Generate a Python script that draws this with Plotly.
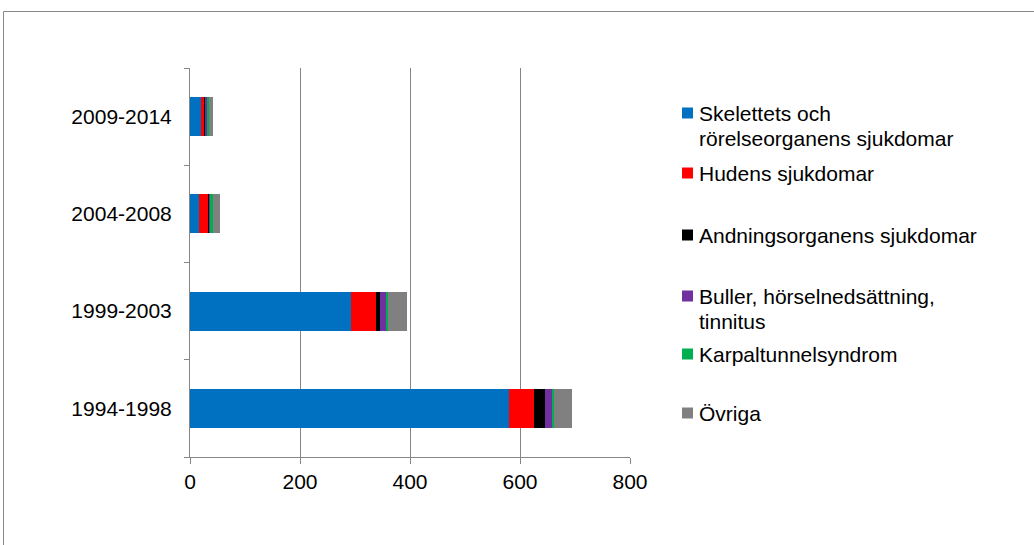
import plotly.graph_objects as go

periods = ["1994-1998", "1999-2003", "2004-2008", "2009-2014"]
series_names = [
    "Skelettets och rörelseorganens sjukdomar",
    "Hudens sjukdomar",
    "Andningsorganens sjukdomar",
    "Buller, hörselnedsättning, tinnitus",
    "Karpaltunnelsyndrom",
    "Övriga",
]
legend_lines = [
    ["Skelettets och", "rörelseorganens sjukdomar"],
    ["Hudens sjukdomar"],
    ["Andningsorganens sjukdomar"],
    ["Buller, hörselnedsättning,", "tinnitus"],
    ["Karpaltunnelsyndrom"],
    ["Övriga"],
]
skelett = [580, 292, 17, 20]
huden = [45, 47, 16, 7]
andning = [21, 6, 2, 2]
buller = [13, 11, 2, 3]
karpal = [3, 4, 4, 2]
ovriga = [33, 34, 14, 7]
colors = ["#0070C0", "#FF0000", "#000000", "#7030A0", "#00B050", "#808080"]
x_ticks = [0, 200, 400, 600, 800]

values = [skelett, huden, andning, buller, karpal, ovriga]

W, H = 1034, 545
ML, MR, MT, MB = 190, 404, 68, 88
PW, PH = W - ML - MR, H - MT - MB


def px(xp):
    return (xp - ML) / PW


def py(yp):
    return (H - MB - yp) / PH


fig = go.Figure()
for name, vals, col in zip(series_names, values, colors):
    fig.add_trace(go.Bar(
        y=periods, x=vals, name=name, orientation="h",
        marker=dict(color=col, line=dict(width=0)),
    ))

GRID = "#868686"
FONT = "Liberation Sans, Arial, sans-serif"

shapes = [dict(
    type="rect", xref="paper", yref="paper",
    x0=px(3.5), x1=px(1200), y0=py(700), y1=py(11.5),
    line=dict(color="#898989", width=1), fillcolor="rgba(0,0,0,0)",
    layer="below",
)]
annotations = []
item_y = [113, 173, 235, 296, 354, 413]
line_step = 25
for lines, col, yc in zip(legend_lines, colors, item_y):
    shapes.append(dict(
        type="rect", xref="paper", yref="paper",
        x0=px(682), x1=px(693), y0=py(yc + 5.5), y1=py(yc - 5.5),
        line=dict(width=0), fillcolor=col,
    ))
    for k, txt in enumerate(lines):
        annotations.append(dict(
            xref="paper", yref="paper", x=px(697), y=py(yc + k * line_step),
            xanchor="left", yanchor="middle", text=txt, showarrow=False,
            font=dict(family=FONT, size=21, color="black"),
        ))

fig.update_layout(
    barmode="stack",
    bargap=0.6,
    width=W, height=H,
    margin=dict(l=ML, r=MR, t=MT, b=MB, autoexpand=False),
    paper_bgcolor="white", plot_bgcolor="white",
    font=dict(family=FONT, size=21, color="black"),
    showlegend=False,
    xaxis=dict(
        range=[0, 800], tickvals=x_ticks, ticktext=[str(v) for v in x_ticks],
        showgrid=True, gridcolor=GRID, gridwidth=1,
        showline=True, linecolor=GRID, linewidth=1,
        ticks="outside", ticklen=6, tickcolor=GRID,
        zeroline=False, fixedrange=True,
    ),
    yaxis=dict(
        categoryorder="array", categoryarray=periods,
        showline=True, linecolor=GRID, linewidth=1,
        ticks="outside", ticklen=5, tickcolor=GRID,
        tickson="boundaries", showgrid=False,
        ticklabelstandoff=13, fixedrange=True,
    ),
    shapes=shapes,
    annotations=annotations,
)

fig.write_html(
    "out.html",
    config={"displayModeBar": False},
    post_script="document.body.style.margin='0';document.body.style.overflow='hidden';",
)
